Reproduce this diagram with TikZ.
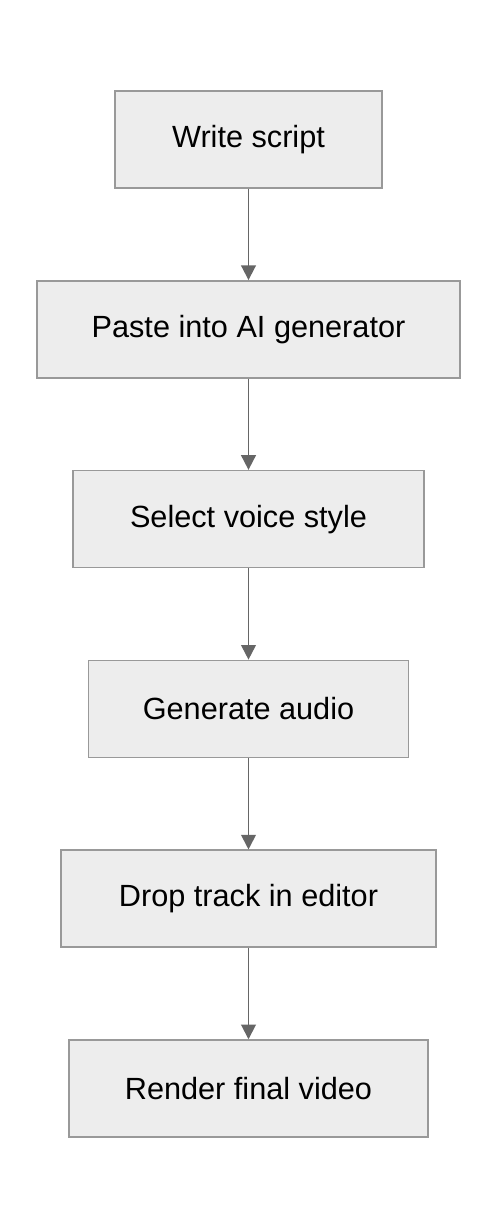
\documentclass[tikz,border=0pt]{standalone}
\usepackage{fontspec}
\setmainfont{Liberation Sans}
\usetikzlibrary{arrows.meta,positioning}

\begin{document}
\begin{tikzpicture}
[x=0.75pt,y=0.75pt,
node distance=68.5pt,
stepbox/.style={rectangle,draw=black!40,fill=black!7,line width=1.1pt,
  minimum height=72.75pt,font=\fontsize{23}{27}\selectfont},
flow/.style={-{Triangle[length=11pt,width=11pt]},draw=black!60,line width=1.4pt}]
\useasboundingbox (-248.5,139.5) rectangle (249.5,-1088.5);
\node[stepbox,minimum width=200.25pt] (write) {Write script};
\node[stepbox,minimum width=317.25pt] (paste) [below=of write] {Paste into AI generator};
\node[stepbox,minimum width=263.25pt] (voice) [below=of paste] {Select voice style};
\node[stepbox,minimum width=240pt] (generate) [below=of voice] {Generate audio};
\node[stepbox,minimum width=281.25pt] (drop) [below=of generate] {Drop track in editor};
\node[stepbox,minimum width=269.25pt] (render) [below=of drop] {Render final video};
\draw[flow] (write) -- (paste);
\draw[flow] (paste) -- (voice);
\draw[flow] (voice) -- (generate);
\draw[flow] (generate) -- (drop);
\draw[flow] (drop) -- (render);
\end{tikzpicture}
\end{document}
